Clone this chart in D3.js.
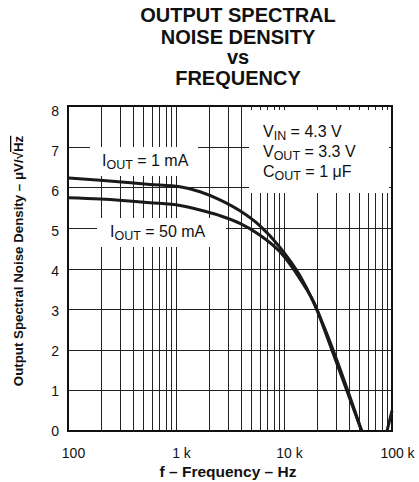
<!DOCTYPE html>
<html><head><meta charset="utf-8">
<script src="https://cdn.jsdelivr.net/npm/d3@7"></script>
<style>
html,body{margin:0;padding:0;background:#fff;}
svg{display:block;font-family:"Liberation Sans",Arial,Helvetica,sans-serif;}
</style></head>
<body>
<svg id="c" width="419" height="482"></svg>
<script>
// ---- data ----
const titleLines = ["OUTPUT SPECTRAL", "NOISE DENSITY", "vs", "FREQUENCY"];
const xTickValues = [100, 1000, 10000, 100000];
const xTickLabels = ["100", "1 k", "10 k", "100 k"];
const yTickValues = [0, 1, 2, 3, 4, 5, 6, 7, 8];
// Frequency (Hz) and noise density (uV/rtHz)
const freq1mA  = [100, 198, 574, 1088, 1670, 2550, 3910, 6000, 9180, 14060, 18560, 24000, 52400];
const noise1mA = [6.23, 6.17, 6.07, 6.01, 5.89, 5.69, 5.42, 5.05, 4.52, 3.82, 3.20, 2.50, 0];
const freq50mA  = [100, 198, 574, 1088, 1670, 2550, 3910, 6000, 9180, 14060, 19790, 24000, 52400];
const noise50mA = [5.74, 5.71, 5.62, 5.55, 5.44, 5.30, 5.11, 4.82, 4.41, 3.74, 3.05, 2.45, 0];
const freqTail  = [89900, 100000];
const noiseTail = [0, 0.5];

const svg = d3.select("#c");
const FONT = '"Liberation Sans",Arial,Helvetica,sans-serif';

const x = d3.scaleLog().domain([100, 100000]).range([68, 392]);
const y = d3.scaleLinear().domain([0, 8]).range([431, 106]);
const xLab = d3.scaleLog().domain([100, 100000]).range([73, 397]);
const yLab = d3.scaleLinear().domain([0, 8]).range([431, 111]);

// title
svg.append("g").selectAll("text").data(titleLines).join("text")
  .attr("x", 238).attr("y", (d, i) => [22, 44, 64, 85][i])
  .attr("text-anchor", "middle").attr("font-size", 20).attr("font-weight", "bold")
  .attr("fill", "#111").text(d => d);

// grid
const grid = svg.append("g").attr("stroke", "#222").attr("stroke-width", 1);
grid.selectAll("line.v").data(x.ticks().filter(f => f > 100 && f < 100000)).join("line")
  .attr("class", "v").attr("x1", d => Math.round(x(d)) + 0.5).attr("x2", d => Math.round(x(d)) + 0.5)
  .attr("y1", y(8)).attr("y2", y(0));
grid.selectAll("line.h").data(yTickValues.filter(v => v > 0 && v < 8)).join("line")
  .attr("class", "h").attr("y1", d => Math.round(y(d)) + 0.5).attr("y2", d => Math.round(y(d)) + 0.5)
  .attr("x1", x(100)).attr("x2", x(100000));

// white label boxes masking grid
const boxes = svg.append("g").attr("fill", "#fff");
boxes.append("rect").attr("x", 90).attr("y", 147).attr("width", 108).attr("height", 29);
boxes.append("rect").attr("x", 97).attr("y", 218).attr("width", 129).attr("height", 29);
boxes.append("rect").attr("x", 249).attr("y", 110).attr("width", 140).attr("height", 83);

// frame
svg.append("rect").attr("x", x(100)).attr("y", y(8))
  .attr("width", x(100000) - x(100)).attr("height", y(0) - y(8))
  .attr("fill", "none").attr("stroke", "#111").attr("stroke-width", 2);

// curves
const line = d3.line().x(d => x(d[0])).y(d => y(d[1])).curve(d3.curveMonotoneX);
const series = [
  d3.zip(freq1mA, noise1mA),
  d3.zip(freq50mA, noise50mA),
  d3.zip(freqTail, noiseTail)
];
svg.append("g").selectAll("path").data(series).join("path")
  .attr("d", line).attr("fill", "none").attr("stroke", "#1a1a1a")
  .attr("stroke-width", 3).attr("stroke-linejoin", "round");

// axes labels
const yAxis = svg.append("g").attr("transform", "translate(62,0)")
  .call(d3.axisLeft(yLab).tickValues(yTickValues).tickSize(0).tickPadding(3).tickFormat(d3.format("d")));
yAxis.select(".domain").remove();
yAxis.selectAll("text").attr("font-size", 14).attr("font-family", FONT).attr("fill", "#111");

const xAxis = svg.append("g").attr("transform", "translate(0,445)")
  .call(d3.axisBottom(xLab).tickValues(xTickValues).tickSize(0).tickPadding(3)
    .tickFormat((d, i) => xTickLabels[i]));
xAxis.select(".domain").remove();
xAxis.selectAll("text").attr("font-size", 14).attr("font-family", FONT).attr("fill", "#111");

// axis titles
svg.append("text").attr("x", 228).attr("y", 477).attr("text-anchor", "middle")
  .attr("font-size", 15.5).attr("font-weight", "bold").attr("fill", "#111")
  .text("f – Frequency – Hz");

const yt = svg.append("text").attr("transform", "translate(23,261) rotate(-90)")
  .attr("text-anchor", "middle").attr("font-size", 13.3).attr("font-weight", "bold").attr("fill", "#111");
yt.append("tspan").text("Output Spectral Noise Density – μV/√");
yt.append("tspan").style("text-decoration", "overline").text("Hz");

// annotation helper with subscripts
function sub(g, xx, yy, parts, fs) {
  const t = g.append("text").attr("x", xx).attr("y", yy).attr("font-size", fs).attr("fill", "#111");
  parts.forEach(p => {
    if (p.s) t.append("tspan").attr("font-size", fs * 0.78).attr("dy", 3).text(p.s);
    else t.append("tspan").attr("dy", p.after ? -3 : 0).text(p.t);
  });
  return t;
}
const ann = svg.append("g");
sub(ann, 102, 166, [{t: "I"}, {s: "OUT"}, {t: " = 1 mA", after: true}], 16);
sub(ann, 110, 237, [{t: "I"}, {s: "OUT"}, {t: " = 50 mA", after: true}], 16);
sub(ann, 263, 137, [{t: "V"}, {s: "IN"}, {t: " = 4.3 V", after: true}], 16);
sub(ann, 263, 157, [{t: "V"}, {s: "OUT"}, {t: " = 3.3 V", after: true}], 16);
sub(ann, 263, 177, [{t: "C"}, {s: "OUT"}, {t: " = 1 μF", after: true}], 16);
</script>
</body></html>
